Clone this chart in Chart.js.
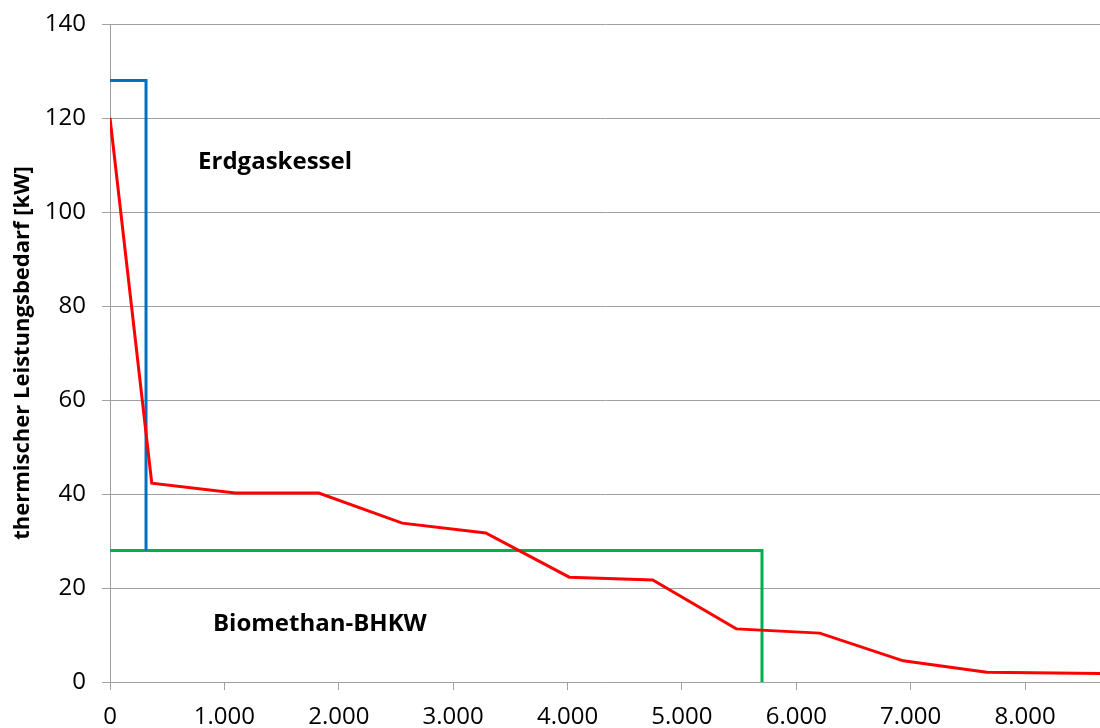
<!DOCTYPE html>
<html>
<head>
<meta charset="utf-8">
<script src="https://cdn.jsdelivr.net/npm/chart.js@4/dist/chart.umd.min.js"></script>
<style>
    html, body { margin: 0; padding: 0; background: #fff; overflow: hidden; }
    #wrap { width: 1100px; height: 728px; }
</style>
</head>
<body>
<div id="wrap"><canvas id="chart"></canvas></div>
<script>
// Jahresdauerlinie (Stunden) und Leistungen
const demandHours = [0, 365, 1095, 1825, 2555, 3285, 4015, 4745, 5475, 6205, 6935, 7665, 8760];
const demandKW = [120, 42.3, 40.2, 40.2, 33.8, 31.7, 22.3, 21.7, 11.3, 10.4, 4.5, 2.1, 1.8];

const boilerHours = [0, 315, 315];
const boilerKW = [128, 128, 28];

const chpHours = [0, 5700, 5700];
const chpKW = [28, 28, 0];

const xTicks = [0, 1000, 2000, 3000, 4000, 5000, 6000, 7000, 8000];
const yTicks = [0, 20, 40, 60, 80, 100, 120, 140];

const labels = [
    { text: 'Erdgaskessel', x: 770, y: 110.6 },
    { text: 'Biomethan-BHKW', x: 900, y: 12.3 }
];

const FONT = "'Open Sans', 'Liberation Sans', sans-serif";

function toPoints(xs, ys) {
    return xs.map((x, i) => ({ x: x, y: ys[i] }));
}

const textLabels = {
    id: 'textLabels',
    afterDatasetsDraw(chart) {
        const { ctx, scales } = chart;
        ctx.save();
        ctx.font = 'bold 24px ' + FONT;
        ctx.fillStyle = '#000';
        ctx.textAlign = 'left';
        ctx.textBaseline = 'middle';
        labels.forEach(l => {
            ctx.fillText(l.text, scales.x.getPixelForValue(l.x), scales.y.getPixelForValue(l.y));
        });
        ctx.restore();
    }
};

const ctx = document.getElementById('chart').getContext('2d');
new Chart(ctx, {
    type: 'line',
    data: {
        datasets: [
            {
                label: 'Wärmebedarf',
                data: toPoints(demandHours, demandKW),
                borderColor: '#FF0000',
                borderWidth: 3,
                pointRadius: 0,
                tension: 0
            },
            {
                label: 'Erdgaskessel',
                data: toPoints(boilerHours, boilerKW),
                borderColor: '#0070C0',
                borderWidth: 3,
                pointRadius: 0,
                tension: 0
            },
            {
                label: 'Biomethan-BHKW',
                data: toPoints(chpHours, chpKW),
                borderColor: '#00B050',
                borderWidth: 3,
                pointRadius: 0,
                tension: 0
            }
        ]
    },
    options: {
        responsive: true,
        maintainAspectRatio: false,
        animation: false,
        layout: { padding: { top: 24, right: 0, left: 0, bottom: 0 } },
        scales: {
            x: {
                type: 'linear',
                min: 0,
                max: 8655,
                afterBuildTicks: s => { s.ticks = xTicks.map(v => ({ value: v })); },
                afterFit: s => { s.height = 46; s.paddingLeft = 0; s.paddingRight = 0; },
                ticks: {
                    color: '#000',
                    font: { family: FONT, size: 24 },
                    padding: 13,
                    maxRotation: 0,
                    callback: v => v.toLocaleString('de-DE')
                },
                grid: {
                    display: true,
                    drawOnChartArea: false,
                    drawTicks: true,
                    tickLength: 8,
                    color: '#A0A0A0'
                },
                border: { color: '#A0A0A0', width: 1 }
            },
            y: {
                min: 0,
                max: 140,
                afterBuildTicks: s => { s.ticks = yTicks.map(v => ({ value: v })); },
                afterFit: s => { s.width = 110; s.paddingTop = 0; s.paddingBottom = 0; },
                ticks: {
                    color: '#000',
                    font: { family: FONT, size: 24 },
                    padding: 16
                },
                grid: {
                    color: '#A0A0A0',
                    tickLength: 8
                },
                border: { color: '#A0A0A0', width: 1 },
                title: {
                    display: true,
                    text: 'thermischer Leistungsbedarf [kW]',
                    color: '#000',
                    font: { family: FONT, size: 22, weight: 'bold' },
                    padding: { top: 10, bottom: 4 }
                }
            }
        },
        plugins: {
            legend: { display: false },
            tooltip: { enabled: false }
        }
    },
    plugins: [textLabels]
});
</script>
</body>
</html>
